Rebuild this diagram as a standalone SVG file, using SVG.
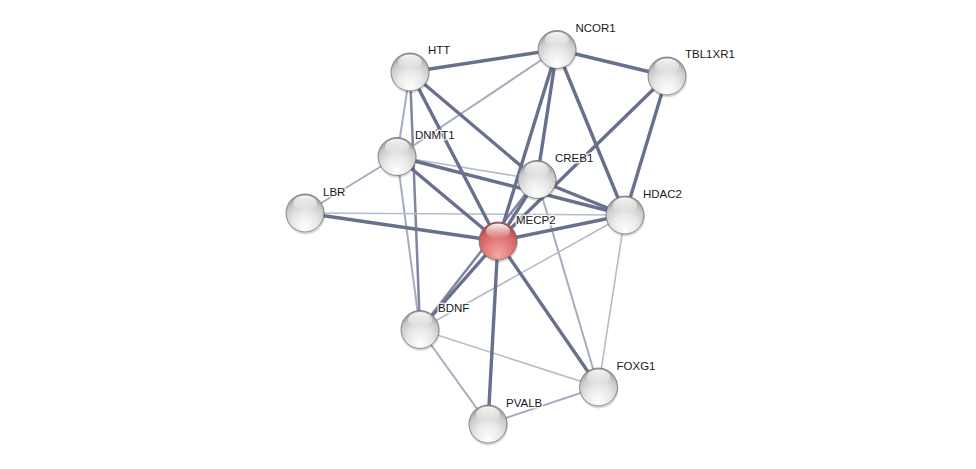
<svg xmlns="http://www.w3.org/2000/svg" width="976" height="469" viewBox="0 0 976 469">
<defs>
<radialGradient id="gw" cx="50%" cy="68%" r="64%" fx="50%" fy="90%">
<stop offset="0" stop-color="#ffffff"/>
<stop offset="0.5" stop-color="#e8e8e8"/>
<stop offset="0.82" stop-color="#cbcbcb"/>
<stop offset="1" stop-color="#9c9c9c"/>
</radialGradient>
<radialGradient id="gr" cx="50%" cy="68%" r="64%" fx="50%" fy="90%">
<stop offset="0" stop-color="#f7a5a5"/>
<stop offset="0.5" stop-color="#e57d7d"/>
<stop offset="0.82" stop-color="#cf6060"/>
<stop offset="1" stop-color="#a84444"/>
</radialGradient>
<linearGradient id="hl" x1="0" y1="0" x2="0" y2="1">
<stop offset="0" stop-color="#ffffff" stop-opacity="0.95"/>
<stop offset="1" stop-color="#ffffff" stop-opacity="0"/>
</linearGradient>
<g id="ball">
<circle r="19.5" cx="0.5" cy="2" fill="#000" fill-opacity="0.14"/>
<circle r="19" fill="inherit" stroke="#6f6f6f" stroke-width="1" stroke-opacity="0.75"/>
<ellipse cx="0" cy="-10" rx="12" ry="7.5" fill="url(#hl)"/>
</g>
</defs>
<style>
.e line{stroke-linecap:butt;fill:none}
.t{stroke:#68708d;stroke-width:3.4}
.m{stroke:#7f86a0;stroke-width:2.5}
.l{stroke:#a6abc0;stroke-width:2}
.x{stroke:#b6bacb;stroke-width:1.6}
text{font-family:"Liberation Sans",Arial,sans-serif;font-size:11.5px;fill:#1a1a1a;stroke:#ffffff;stroke-width:3;stroke-opacity:0.75;paint-order:stroke;stroke-linejoin:round}
</style>
<rect width="976" height="469" fill="#ffffff"/>
<g id="edges" class="e">
<line class="l" x1="410" y1="72" x2="397" y2="156.5"/>
<line class="m" x1="410" y1="72" x2="420" y2="329.5"/>
<line class="l" x1="557" y1="49.5" x2="397" y2="156.5"/>
<line class="l" x1="397" y1="156.5" x2="305" y2="213"/>
<line class="x" x1="397" y1="156.5" x2="537" y2="179.5"/>
<line class="l" x1="397" y1="156.5" x2="420" y2="329.5"/>
<line class="x" x1="305" y1="213" x2="625" y2="215"/>
<line class="l" x1="537" y1="179.5" x2="598.5" y2="387"/>
<line class="x" x1="625" y1="215" x2="598.5" y2="387"/>
<line class="x" x1="625" y1="215" x2="420" y2="329.5"/>
<line class="x" x1="420" y1="329.5" x2="598.5" y2="387"/>
<line class="l" x1="420" y1="329.5" x2="488" y2="424"/>
<line class="l" x1="488" y1="424" x2="598.5" y2="387"/>
<line class="m" x1="537" y1="179.5" x2="420" y2="329.5"/>
<line class="t" x1="410" y1="72" x2="557" y2="49.5"/>
<line class="t" x1="410" y1="72" x2="537" y2="179.5"/>
<line class="t" x1="410" y1="72" x2="498" y2="241"/>
<line class="t" x1="557" y1="49.5" x2="667" y2="76"/>
<line class="t" x1="557" y1="49.5" x2="498" y2="241"/>
<line class="t" x1="557" y1="49.5" x2="537" y2="179.5"/>
<line class="t" x1="557" y1="49.5" x2="625" y2="215"/>
<line class="t" x1="667" y1="76" x2="625" y2="215"/>
<line class="t" x1="667" y1="76" x2="498" y2="241"/>
<line class="t" x1="397" y1="156.5" x2="498" y2="241"/>
<line class="t" x1="397" y1="156.5" x2="625" y2="215"/>
<line class="t" x1="305" y1="213" x2="498" y2="241"/>
<line class="t" x1="537" y1="179.5" x2="498" y2="241"/>
<line class="t" x1="537" y1="179.5" x2="625" y2="215"/>
<line class="t" x1="498" y1="241" x2="625" y2="215"/>
<line class="t" x1="498" y1="241" x2="420" y2="329.5"/>
<line class="t" x1="498" y1="241" x2="488" y2="424"/>
<line class="t" x1="498" y1="241" x2="598.5" y2="387"/>
</g>
<g id="HTT" fill="url(#gw)"><use href="#ball" x="410" y="72"/><text x="428" y="54">HTT</text></g>
<g id="NCOR1" fill="url(#gw)"><use href="#ball" x="557" y="49.5"/><text x="575.5" y="32">NCOR1</text></g>
<g id="TBL1XR1" fill="url(#gw)"><use href="#ball" x="667" y="76"/><text x="685" y="58">TBL1XR1</text></g>
<g id="DNMT1" fill="url(#gw)"><use href="#ball" x="397" y="156.5"/><text x="415" y="139">DNMT1</text></g>
<g id="CREB1" fill="url(#gw)"><use href="#ball" x="537" y="179.5"/><text x="555" y="162">CREB1</text></g>
<g id="LBR" fill="url(#gw)"><use href="#ball" x="305" y="213"/><text x="323" y="195.5">LBR</text></g>
<g id="HDAC2" fill="url(#gw)"><use href="#ball" x="625" y="215"/><text x="643" y="197.5">HDAC2</text></g>
<g id="MECP2" fill="url(#gr)"><use href="#ball" x="498" y="241"/><text x="516" y="223.5">MECP2</text></g>
<g id="BDNF" fill="url(#gw)"><use href="#ball" x="420" y="329.5"/><text x="438" y="312">BDNF</text></g>
<g id="FOXG1" fill="url(#gw)"><use href="#ball" x="598.5" y="387"/><text x="616.5" y="369.5">FOXG1</text></g>
<g id="PVALB" fill="url(#gw)"><use href="#ball" x="488" y="424"/><text x="506" y="406.5">PVALB</text></g>
</svg>
